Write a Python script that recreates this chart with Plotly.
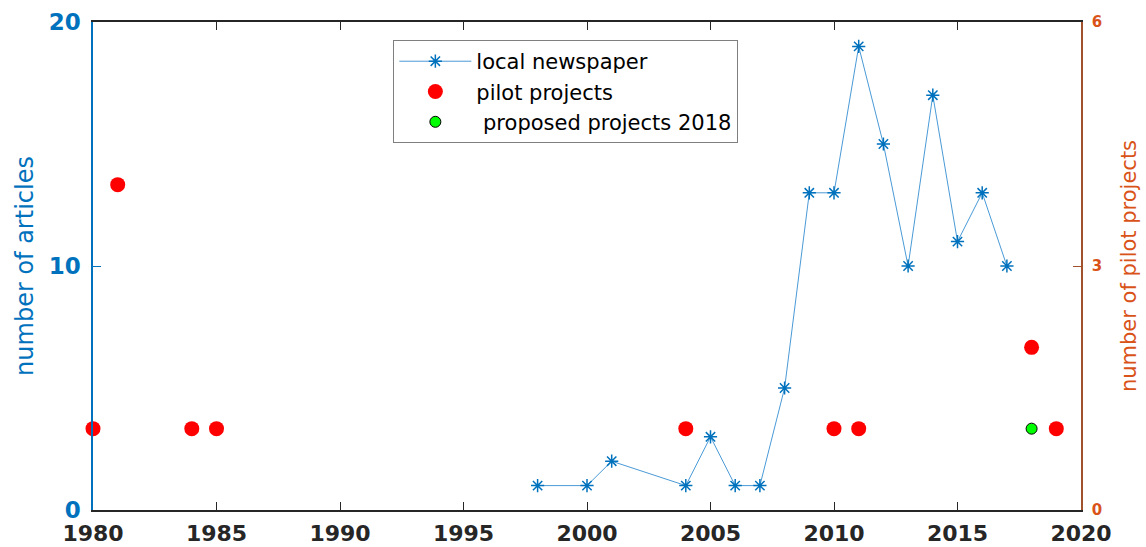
import plotly.graph_objects as go

# Local newspaper article counts per year
news_years = [1998, 2000, 2001, 2004, 2005, 2006, 2007, 2008, 2009, 2010,
              2011, 2012, 2013, 2014, 2015, 2016, 2017]
news_counts = [1, 1, 2, 1, 3, 1, 1, 5, 13, 13, 19, 15, 10, 17, 11, 13, 10]

# Pilot projects per year (right axis)
pilot_years = [1980, 1981, 1984, 1985, 2004, 2010, 2011, 2018, 2019]
pilot_counts = [1, 4, 1, 1, 1, 1, 1, 2, 1]

# Proposed projects in 2018 (right axis)
proposed_years = [2018]
proposed_counts = [1]

x_ticks = [1980, 1985, 1990, 1995, 2000, 2005, 2010, 2015, 2020]
left_ticks = [0, 10, 20]
right_ticks = [0, 3, 6]

BLUE = "#0072BD"
ORANGE = "#D95319"
FONT = "DejaVu Sans, Liberation Sans, Arial, sans-serif"

fig = go.Figure()

fig.add_trace(go.Scatter(
    x=news_years, y=news_counts, name="local newspaper",
    mode="lines+markers",
    line=dict(color="#4A9AD6", width=1),
    marker=dict(symbol="asterisk-open", size=11, color=BLUE,
                line=dict(color=BLUE, width=1.5)),
    yaxis="y", cliponaxis=False,
))

fig.add_trace(go.Scatter(
    x=pilot_years, y=pilot_counts, name="pilot projects",
    mode="markers",
    marker=dict(symbol="circle", size=15, color="#FF0000",
                line=dict(width=0)),
    yaxis="y2", cliponaxis=False,
))

fig.add_trace(go.Scatter(
    x=proposed_years, y=proposed_counts, name=" proposed projects 2018",
    mode="markers",
    marker=dict(symbol="circle", size=11, color="#00FF00",
                line=dict(color="black", width=1)),
    yaxis="y2", cliponaxis=False,
))

fig.update_layout(
    width=1146, height=547,
    margin=dict(l=93, r=65, t=22, b=37),
    paper_bgcolor="white", plot_bgcolor="white",
    font=dict(family=FONT),
    showlegend=True,
    legend=dict(
        x=0.304, y=0.963, xanchor="left", yanchor="top",
        bgcolor="white", bordercolor="#7F7F7F", borderwidth=1,
        font=dict(size=21, color="black", family=FONT),
        tracegroupgap=0, itemwidth=72,
    ),
    xaxis=dict(
        range=[1980, 2020], tickvals=x_ticks,
        showgrid=False, zeroline=False, automargin=False,
        showline=True, linecolor="#262626", linewidth=1.5, mirror="ticks",
        ticks="inside", ticklen=8, tickcolor="#262626",
        ticklabelstandoff=3,
        tickfont=dict(size=22, color="#262626", family=FONT, weight="bold"),
    ),
    yaxis=dict(
        range=[0, 20], tickvals=left_ticks,
        showgrid=False, zeroline=False, automargin=False,
        showline=True, linecolor=BLUE, linewidth=1.5,
        ticks="inside", ticklen=8, tickcolor=BLUE,
        ticklabelstandoff=6,
        tickfont=dict(size=23, color=BLUE, family=FONT, weight="bold"),
        title=dict(text="number of articles",
                   font=dict(size=24, color=BLUE, family=FONT), standoff=8),
    ),
    yaxis2=dict(
        range=[0, 6], tickvals=right_ticks,
        overlaying="y", side="right",
        showgrid=False, zeroline=False, automargin=False,
        showline=True, linecolor="#A0522D", linewidth=1.5,
        ticks="inside", ticklen=8, tickcolor="#A0522D",
        ticklabelstandoff=6,
        tickfont=dict(size=15, color=ORANGE, family=FONT, weight="bold"),
        title=dict(text="number of pilot projects",
                   font=dict(size=21, color=ORANGE, family=FONT), standoff=20),
    ),
)

fig.write_html("out.html")
